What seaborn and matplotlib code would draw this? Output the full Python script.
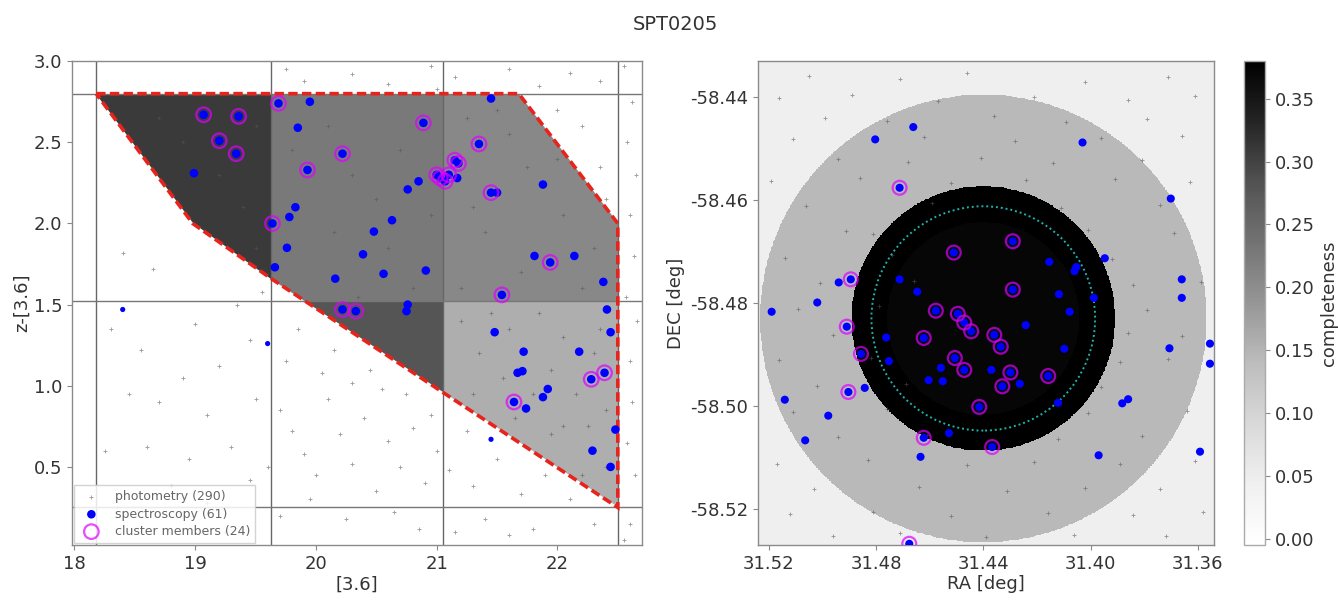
import numpy as np
import matplotlib
matplotlib.use("Agg")
import matplotlib.pyplot as plt
from matplotlib.patches import Polygon, Ellipse
from matplotlib.ticker import FormatStrFormatter
import seaborn as sns

# ---------------- data: left panel (colour-magnitude) ----------------
sel_mag = [18.18, 21.68, 22.50, 22.50, 21.05, 19.63, 18.98]
sel_col = [2.80, 2.80, 2.00, 0.25, 0.96, 1.66, 2.00]
grid_mag = [18.18, 19.63, 21.05, 22.50]
grid_col = [0.25, 1.52, 2.80]
cell_completeness = [[0.0, 0.278, 0.158],
                     [0.309, 0.227, 0.206]]

phot_cm = [
    (19.75, 2.95), (19.9, 2.88), (20.3, 2.92), (20.6, 2.86), (20.95, 2.97), (21.15, 2.9),
    (21.6, 2.95), (21.85, 2.85), (22.1, 2.93), (22.35, 2.88), (22.55, 2.97), (21.0, 2.83),
    (22.62, 2.75), (22.58, 2.5), (22.65, 2.3), (22.6, 2.05), (22.63, 1.8), (22.57, 1.55),
    (22.66, 1.4), (22.6, 1.15), (22.62, 0.9), (22.58, 0.65), (22.64, 0.45), (22.6, 0.15),
    (22.55, 0.05), (22.2, 2.6), (22.35, 2.35), (22.0, 2.7), (22.4, 2.15),
    (18.4, 1.82), (18.65, 1.72), (18.3, 1.35), (18.55, 1.22), (18.45, 0.95), (18.7, 0.9),
    (18.6, 0.62), (18.95, 0.55), (18.8, 0.38), (19.1, 0.82), (19.3, 0.62), (19.45, 0.42),
    (19.2, 1.12), (19.0, 1.38), (19.45, 1.28), (18.9, 1.05), (19.5, 0.92), (19.35, 1.5),
    (19.1, 0.28), (18.35, 0.25), (19.55, 1.58), (18.25, 0.6), (19.6, 0.5), (19.25, 0.1),
    (19.7, 0.85), (19.8, 0.72), (19.9, 0.58), (20.0, 0.45), (20.1, 0.92), (20.2, 0.7),
    (20.3, 0.52), (20.4, 0.8), (20.5, 0.35), (20.6, 0.66), (20.7, 0.5), (20.8, 0.74),
    (20.9, 0.4), (20.95, 0.82), (20.05, 1.08), (20.3, 1.02), (20.55, 0.98), (19.75, 1.15),
    (19.85, 1.35), (20.15, 1.22), (19.95, 0.3), (20.25, 0.18), (20.65, 0.22), (20.85, 0.12),
    (21.0, 0.6), (20.45, 1.1), (20.75, 0.95), (19.7, 0.2),
    (21.1, 0.48), (21.3, 0.38), (21.5, 0.55), (21.7, 0.33), (21.9, 0.45), (22.1, 0.3),
    (21.25, 0.72), (21.4, 0.18), (21.8, 0.12), (22.3, 0.15), (21.6, 0.08), (21.15, 0.1),
    (18.7, 2.65), (19.2, 2.3), (19.4, 2.1), (19.5, 1.85), (18.9, 2.5), (19.5, 2.6),
    (19.8, 2.45), (20.1, 2.6), (20.3, 2.3), (20.5, 2.15), (20.7, 2.45), (20.6, 1.85),
    (20.15, 1.95), (20.35, 1.55), (20.8, 1.6), (20.95, 2.05), (21.25, 2.65), (21.6, 2.55),
    (21.75, 2.35), (22.05, 2.05), (21.4, 1.95), (21.7, 1.7), (22.3, 1.85), (22.2, 1.6),
    (21.2, 1.6), (21.5, 2.7), (22.0, 2.4), (21.3, 2.1),
    (21.2, 1.4), (21.35, 1.2), (21.6, 1.35), (21.85, 1.45), (22.05, 1.3), (22.35, 1.35),
    (21.3, 0.95), (21.55, 1.05), (21.95, 1.1), (22.15, 0.95), (22.4, 0.85), (21.8, 0.95),
    (22.05, 0.75), (22.25, 0.75), (22.4, 0.5), (22.2, 0.45), (21.95, 0.7), (21.65, 0.8),
    (20.6, 1.4), (20.85, 1.3), (20.95, 1.15), (20.7, 1.25), (21.45, 1.45), (22.3, 1.2),
]

spec_cm = [
    (18.99, 2.31), (19.95, 2.75), (19.85, 2.59), (21.17, 2.28), (20.76, 2.21), (20.85, 2.26),
    (21.50, 2.19), (21.88, 2.24), (21.45, 2.77), (19.83, 2.10), (19.78, 2.04), (20.63, 2.02),
    (20.48, 1.95), (19.76, 1.85), (20.39, 1.81), (19.66, 1.73), (20.16, 1.66), (20.56, 1.69),
    (20.91, 1.71), (21.81, 1.80), (22.14, 1.80), (22.38, 1.64), (20.76, 1.50), (20.75, 1.46),
    (22.41, 1.47), (22.44, 1.33), (21.48, 1.33), (21.72, 1.21), (22.18, 1.21), (21.67, 1.08),
    (21.71, 1.09), (21.92, 0.98), (21.88, 0.93), (21.74, 0.86), (22.48, 0.73), (22.29, 0.60),
    (22.44, 0.50),
]
spec_out_cm = [(18.40, 1.47), (19.60, 1.26), (21.45, 0.67)]
member_cm = [
    (19.07, 2.67), (19.36, 2.66), (19.20, 2.51), (19.34, 2.43), (19.69, 2.74), (20.89, 2.62),
    (20.22, 2.43), (19.93, 2.33), (21.35, 2.49), (21.15, 2.39), (21.18, 2.37), (21.00, 2.30),
    (21.07, 2.26), (21.03, 2.28), (21.45, 2.19), (19.64, 2.00), (21.94, 1.76), (21.54, 1.56),
    (20.22, 1.47), (20.33, 1.46), (22.28, 1.04), (22.39, 1.08), (21.64, 0.90), (21.10, 2.30),
]

# ---------------- data: right panel (sky) ----------------
center_ra, center_dec = 31.440, -58.483
zone_radius = [0.0435, 0.0257, 0.0187]        # deg (true angle), outer -> inner
zone_completeness = [0.145, 0.385, 0.372]
background_completeness = 0.045
r200_radius = 0.0218

phot_sky = [
    (31.505, -58.4358), (31.471, -58.4365), (31.446, -58.4352), (31.402, -58.4370), (31.371, -58.4361),
    (31.516, -58.4402), (31.489, -58.4395), (31.457, -58.4408), (31.421, -58.4399), (31.386, -58.4405), (31.361, -58.4397),
    (31.499, -58.4441), (31.476, -58.4446), (31.436, -58.4437), (31.409, -58.4449), (31.379, -58.4443),
    (31.511, -58.4482), (31.462, -58.4478), (31.428, -58.4485), (31.396, -58.4480), (31.366, -58.4476),
    (31.494, -58.4521), (31.468, -58.4525), (31.441, -58.4518), (31.414, -58.4527), (31.381, -58.4523),
    (31.519, -58.4562), (31.486, -58.4557), (31.452, -58.4566), (31.424, -58.4560), (31.391, -58.4559), (31.363, -58.4564),
    (31.506, -58.4612), (31.459, -58.4606), (31.411, -58.4615), (31.374, -58.4609),
    (31.491, -58.4661), (31.481, -58.4665), (31.401, -58.4658), (31.369, -58.4663),
    (31.514, -58.4712), (31.474, -58.4706), (31.392, -58.4714),
    (31.501, -58.4762), (31.466, -58.4757), (31.384, -58.4765), (31.359, -58.4760),
    (31.509, -58.4811), (31.479, -58.4806), (31.379, -58.4814),
    (31.496, -58.4862), (31.386, -58.4858), (31.366, -58.4865),
    (31.516, -58.4911), (31.482, -58.4907), (31.389, -58.4914), (31.371, -58.4909),
    (31.502, -58.4962), (31.469, -58.4957), (31.396, -58.4964),
    (31.511, -58.5011), (31.476, -58.5006), (31.401, -58.5014), (31.364, -58.5009),
    (31.494, -58.5061), (31.461, -58.5057), (31.412, -58.5064), (31.381, -58.5059),
    (31.517, -58.5112), (31.483, -58.5106), (31.446, -58.5115), (31.421, -58.5109), (31.389, -58.5113), (31.361, -58.5108),
    (31.503, -58.5162), (31.464, -58.5157), (31.431, -58.5165), (31.402, -58.5159), (31.374, -58.5161),
    (31.512, -58.5211), (31.481, -58.5206), (31.452, -58.5214), (31.416, -58.5209), (31.384, -58.5213), (31.358, -58.5207),
    (31.496, -58.5252), (31.471, -58.5248), (31.439, -58.5255), (31.406, -58.5250), (31.372, -58.5253),
]

spec_sky = [
    (31.4803, -58.4482), (31.4661, -58.4458), (31.4030, -58.4488), (31.3701, -58.4597),
    (31.4939, -58.4760), (31.5019, -58.4799), (31.5189, -58.4817), (31.4712, -58.4754),
    (31.4646, -58.4778), (31.4154, -58.4720), (31.4053, -58.4730), (31.4060, -58.4738),
    (31.3947, -58.4713), (31.4118, -58.4783), (31.3988, -58.4790), (31.4078, -58.4817),
    (31.4242, -58.4843), (31.4762, -58.4867), (31.4752, -58.4913), (31.4098, -58.4889),
    (31.4558, -58.4926), (31.4604, -58.4950), (31.4551, -58.4952), (31.4370, -58.4930),
    (31.4264, -58.4957), (31.4842, -58.4965), (31.4121, -58.4994), (31.3882, -58.4995),
    (31.3860, -58.4987), (31.3660, -58.4754), (31.3660, -58.4790), (31.3706, -58.4888),
    (31.3555, -58.4879), (31.3555, -58.4918), (31.5140, -58.4988), (31.4978, -58.5019),
    (31.5064, -58.5067), (31.4528, -58.5053), (31.4634, -58.5099), (31.3970, -58.5096),
    (31.3592, -58.5089),
]
member_sky = [
    (31.4712, -58.4576), (31.4290, -58.4680), (31.4510, -58.4702), (31.4290, -58.4774),
    (31.4577, -58.4815), (31.4495, -58.4821), (31.4471, -58.4838), (31.4445, -58.4855),
    (31.4622, -58.4868), (31.4359, -58.4862), (31.4335, -58.4885), (31.4506, -58.4907),
    (31.4471, -58.4930), (31.4299, -58.4935), (31.4329, -58.4962), (31.4158, -58.4942),
    (31.4415, -58.5002), (31.4622, -58.5062), (31.4367, -58.5080), (31.4894, -58.4754),
    (31.4909, -58.4846), (31.4856, -58.4899), (31.4903, -58.4973), (31.4676, -58.5268),
]

legend_labels = ["photometry (290)", "spectroscopy (61)", "cluster members (24)"]

# ---------------- style ----------------
sns.set_style("ticks")
plt.rcParams.update({
    "font.family": ["DejaVu Sans"],
    "axes.edgecolor": "#8a8a8a",
    "axes.linewidth": 1.0,
    "xtick.color": "#8a8a8a",
    "ytick.color": "#8a8a8a",
    "xtick.labelcolor": "#333333",
    "ytick.labelcolor": "#333333",
    "axes.labelcolor": "#333333",
    "xtick.labelsize": 13,
    "ytick.labelsize": 13,
    "axes.labelsize": 13,
})

fig = plt.figure(figsize=(13.38, 6.0), dpi=100)
axL = fig.add_axes([0.0538, 0.092, 0.426, 0.806])
axR = fig.add_axes([0.5665, 0.092, 0.3408, 0.806])
cax = fig.add_axes([0.9297, 0.092, 0.0157, 0.806])

cmap = "Greys"
vmin, vmax = -0.005, 0.38

# ---------------- left panel ----------------
sel_poly = Polygon(list(zip(sel_mag, sel_col)), closed=True, facecolor="none",
                   edgecolor="#e8231c", lw=2.6, linestyle=(0, (2.6, 1.2)), zorder=5)
mesh = axL.pcolormesh(grid_mag, grid_col, np.array(cell_completeness), cmap=cmap,
                      vmin=vmin, vmax=vmax, zorder=1)
axL.add_patch(sel_poly)
mesh.set_clip_path(sel_poly)

for gx in grid_mag:
    axL.axvline(gx, color="#666666", lw=1.0, zorder=2)
for gy in grid_col:
    axL.axhline(gy, color="#777777", lw=1.0, zorder=2)

pm, pc = zip(*phot_cm)
sns.scatterplot(x=list(pm), y=list(pc), ax=axL, marker="+", s=9, color="#555555",
                linewidth=0.6, alpha=0.6, zorder=3, label=legend_labels[0])
sm, sc = zip(*(spec_cm + member_cm))
sns.scatterplot(x=list(sm), y=list(sc), ax=axL, marker="o", s=38, color="#0000ff",
                edgecolor="none", zorder=6, label=legend_labels[1])
om, oc = zip(*spec_out_cm)
sns.scatterplot(x=list(om), y=list(oc), ax=axL, marker="o", s=14, color="#0000ff",
                edgecolor="none", zorder=6)
mm, mc = zip(*member_cm)
axL.scatter(mm, mc, s=110, facecolors="none", edgecolors="#dd00ff", linewidths=1.6,
            alpha=0.7, zorder=7, label=legend_labels[2])

axL.set_xlim(17.98, 22.7)
axL.set_ylim(0.02, 3.0)
axL.set_xticks([18, 19, 20, 21, 22])
axL.set_yticks([0.5, 1.0, 1.5, 2.0, 2.5, 3.0])
axL.yaxis.set_major_formatter(FormatStrFormatter("%.1f"))
axL.set_xlabel("[3.6]", labelpad=2)
axL.set_ylabel("z-[3.6]", labelpad=2)
leg = axL.legend(loc="lower left", fontsize=9, frameon=True, framealpha=0.85,
                 edgecolor="#cccccc", labelcolor="#666666", borderaxespad=0.15,
                 handletextpad=0.9, labelspacing=0.35, fancybox=False)
leg.set_zorder(10)

# ---------------- right panel ----------------
ra_lim = (31.524, 31.354)
dec_lim = (-58.527, -58.433)
cosd = np.cos(np.radians(center_dec))
ra_g = np.linspace(ra_lim[0], ra_lim[1], 700)
dec_g = np.linspace(dec_lim[0], dec_lim[1], 700)
RA, DEC = np.meshgrid(ra_g, dec_g)
rr = np.hypot((RA - center_ra) * cosd, DEC - center_dec)
comp = np.full(rr.shape, background_completeness)
for rad, val in zip(zone_radius, zone_completeness):
    comp[rr < rad] = val
im = axR.pcolormesh(RA, DEC, comp, cmap=cmap, vmin=vmin, vmax=vmax,
                    shading="auto", rasterized=True, zorder=1)

axR.add_patch(Ellipse((center_ra, center_dec), 2 * r200_radius / cosd, 2 * r200_radius,
                      facecolor="none", edgecolor="#20b2aa", lw=1.4, linestyle=(0, (1, 1.5)),
                      zorder=4))

pr, pd_ = zip(*phot_sky)
sns.scatterplot(x=list(pr), y=list(pd_), ax=axR, marker="+", s=9, color="#555555",
                linewidth=0.6, alpha=0.6, zorder=3, legend=False)
sr, sd = zip(*(spec_sky + member_sky))
sns.scatterplot(x=list(sr), y=list(sd), ax=axR, marker="o", s=34, color="#0000ff",
                edgecolor="none", zorder=6, legend=False)
mr, md = zip(*member_sky)
axR.scatter(mr, md, s=100, facecolors="none", edgecolors="#dd00ff", linewidths=1.6,
            alpha=0.7, zorder=7)

axR.set_xlim(*ra_lim)
axR.set_ylim(*dec_lim)
axR.set_xticks([31.52, 31.48, 31.44, 31.40, 31.36])
axR.set_yticks([-58.44, -58.46, -58.48, -58.50, -58.52])
axR.xaxis.set_major_formatter(FormatStrFormatter("%.2f"))
axR.yaxis.set_major_formatter(FormatStrFormatter("%.2f"))
axR.set_xlabel("RA [deg]", labelpad=2)
axR.set_ylabel("DEC [deg]", labelpad=4)

cb = fig.colorbar(im, cax=cax)
cb.set_ticks([0.0, 0.05, 0.10, 0.15, 0.20, 0.25, 0.30, 0.35])
cb.ax.yaxis.set_major_formatter(FormatStrFormatter("%.2f"))
cb.set_label("completeness", fontsize=13, color="#333333")
cb.outline.set_edgecolor("#aaaaaa")

fig.suptitle("SPT0205", x=0.505, y=0.975, fontsize=14, color="#333333")

fig.savefig("out.png", dpi=100)
